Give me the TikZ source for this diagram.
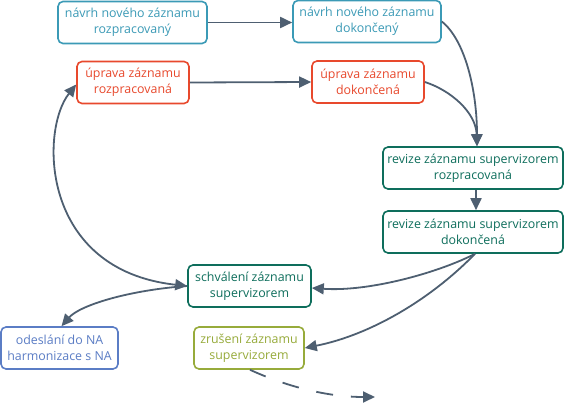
\documentclass[tikz,border=0pt]{standalone}
\usepackage{fontspec}
\setmainfont{Open Sans}
\usetikzlibrary{arrows.meta}
\definecolor{navrh}{HTML}{3B9AB6}
\definecolor{uprava}{HTML}{E8492D}
\definecolor{revize}{HTML}{0E6E5C}
\definecolor{odeslani}{HTML}{5B7DC5}
\definecolor{zruseni}{HTML}{97AB3B}
\definecolor{spoj}{HTML}{4E5F71}

\begin{document}
\begin{tikzpicture}[x=1pt,y=-1pt,
  box/.style={draw=#1,text=#1,line width=1.6pt,rounded corners=5pt,fill=white,
    align=center,minimum height=42pt,inner sep=0pt,
    font=\fontsize{12.4}{16}\selectfont},
  arr/.style={spoj,line width=1.8pt,-{Triangle[length=12pt,width=11pt]}}]
\useasboundingbox (0,0) rectangle (571,404);
% Boxes
\node[box=navrh,minimum width=149pt] (nrozp) at (132.5,22.5) {návrh nového záznamu\\rozpracovaný};
\node[box=navrh,minimum width=148pt] (ndok) at (367,21.5) {návrh nového záznamu\\dokončený};
\node[box=uprava,minimum width=112pt] (urozp) at (133,82.5) {úprava záznamu\\rozpracovaná};
\node[box=uprava,minimum width=112pt] (udok) at (368,82) {úprava záznamu\\dokončená};
\node[box=revize,minimum width=180pt] (rrozp) at (473,168) {revize záznamu supervizorem\\rozpracovaná};
\node[box=revize,minimum width=180pt] (rdok) at (473,232) {revize záznamu supervizorem\\dokončená};
\node[box=revize,minimum width=123pt] (schval) at (249.5,286) {schválení záznamu\\supervizorem};
\node[box=odeslani,minimum width=117pt] (odesl) at (59.5,348) {odeslání do NA\\harmonizace s NA};
\node[box=zruseni,minimum width=110pt] (zrus) at (249,348) {zrušení záznamu\\supervizorem};
\coordinate (konec) at (375,397);
% Straight arrows
\draw[arr] (nrozp.east) -- (ndok.west |- nrozp.east);
\draw[arr] (urozp.east) -- (udok.west);
\draw[arr] ([xshift=3pt]rrozp.south) -- ([xshift=3pt]rdok.north);
% Curved arrows
\draw[arr] (ndok.east) .. controls (465,40) and (477,90) .. ([xshift=4pt]rrozp.north);
\draw[arr] (udok.east) .. controls (450,90) and (476,112) .. ([xshift=4pt]rrozp.north);
\draw[arr] ([xshift=2pt]rdok.south) .. controls (440,272) and (370,292) .. ([yshift=-2pt]schval.east);
\draw[arr] ([xshift=2pt]rdok.south) .. controls (430,300) and (370,335) .. (zrus.east);
\draw[arr,{Triangle[length=12pt,width=11pt]}-{Triangle[length=12pt,width=11pt]}] (schval.west) .. controls (40,270) and (40,130) .. ([yshift=-2pt]urozp.west);
\draw[arr] (schval.west) .. controls (130,290) and (80,305) .. ([xshift=2pt]odesl.north);
\draw[arr,dash pattern=on 17pt off 18pt] ([xshift=1pt]zrus.south) .. controls (290,388) and (330,397) .. (konec);
\end{tikzpicture}
\end{document}
